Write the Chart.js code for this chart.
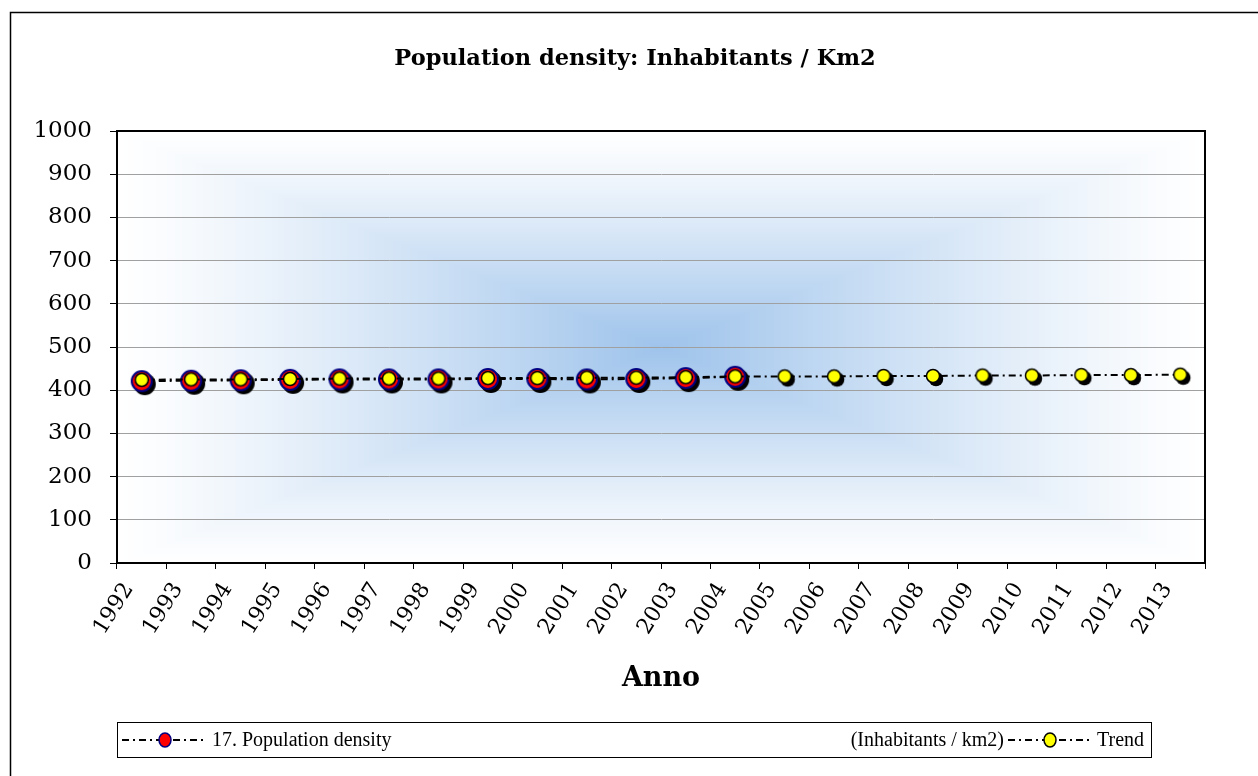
<!DOCTYPE html>
<html>
<head>
<meta charset="utf-8">
<title>Population density</title>
<script src="https://cdn.jsdelivr.net/npm/chart.js@4"></script>
<style>
  html, body { margin: 0; padding: 0; background: #fff; }
  #wrap { width: 1258px; height: 776px; position: relative; }
</style>
</head>
<body>
<div id="wrap"><canvas id="densityChart" width="1258" height="776"></canvas></div>
<script>
(function () {
  'use strict';

  const years = ['1992', '1993', '1994', '1995', '1996', '1997', '1998', '1999', '2000', '2001', '2002',
    '2003', '2004', '2005', '2006', '2007', '2008', '2009', '2010', '2011', '2012', '2013'];
  const density = [421, 422, 423, 424, 425, 425, 425, 426, 426, 425, 426, 428, 431];
  const trend = [424, 425, 425, 426, 427, 427, 427, 428, 428, 429, 429, 430, 432,
    432, 432, 433, 433, 434, 434, 435, 435, 436];
  const yTicks = [0, 100, 200, 300, 400, 500, 600, 700, 800, 900, 1000];

  const titleText = 'Population density: Inhabitants / Km2';
  const xTitle = 'Anno';
  const densityName = '17. Population density';
  const densityUnit = '(Inhabitants / km2)';
  const trendName = 'Trend';

  const SERIF = "'DejaVu Serif', serif";
  const LEGEND_FONT = "20px 'Liberation Serif', serif";
  const DASH = [7, 4, 2, 4];
  const TITLE_CENTER_X = 635; // Excel centres the title on the whole frame, not the canvas

  // marker with a hard black drop shadow, like the Excel original
  function makeMarker(r, fill, stroke, lw, withShadow) {
    const off = 3;
    const size = Math.ceil((r + lw + off) * 2 + 2);
    const c = document.createElement('canvas');
    c.width = c.height = size;
    const g = c.getContext('2d');
    const m = size / 2;
    if (withShadow) {
      g.fillStyle = '#000';
      g.beginPath();
      g.arc(m + off, m + off, r + lw / 2, 0, Math.PI * 2);
      g.fill();
    }
    g.fillStyle = fill;
    g.strokeStyle = stroke;
    g.lineWidth = lw;
    g.beginPath();
    g.arc(m, m, r, 0, Math.PI * 2);
    g.fill();
    g.stroke();
    return c;
  }

  const redMarker = makeMarker(10, '#ff0000', '#000080', 2, true);
  const yellowMarker = makeMarker(6.5, '#ffff00', '#000000', 1.5, true);
  const yellowFlat = makeMarker(6.5, '#ffff00', '#000000', 1.5, false);

  let bgCache = null;
  function buildBackground(w, h) {
    const c = document.createElement('canvas');
    c.width = w;
    c.height = h;
    const g = c.getContext('2d');
    const img = g.createImageData(w, h);
    const cx = w / 2, cy = h / 2;
    const center = [158, 195, 235];
    for (let y = 0; y < h; y++) {
      for (let x = 0; x < w; x++) {
        const t = Math.max(Math.abs(x - cx) / cx, Math.abs(y - cy) / cy);
        const k = Math.pow(1 - Math.min(1, t), 1.2);
        const i = (y * w + x) * 4;
        img.data[i] = 255 + (center[0] - 255) * k;
        img.data[i + 1] = 255 + (center[1] - 255) * k;
        img.data[i + 2] = 255 + (center[2] - 255) * k;
        img.data[i + 3] = 255;
      }
    }
    g.putImageData(img, 0, 0);
    return c;
  }

  const backdrop = {
    id: 'backdrop',
    afterLayout(chart) {
      const t = chart.titleBlock;
      if (!t) return;
      const shift = TITLE_CENTER_X - (t.left + t.right) / 2;
      t.left += shift;
      t.right += shift;
    },
    beforeDraw(chart) {
      const ctx = chart.ctx;
      const a = chart.chartArea;
      ctx.save();
      ctx.fillStyle = '#fff';
      ctx.fillRect(0, 0, chart.width, chart.height);
      ctx.strokeStyle = '#000';
      ctx.lineWidth = 1.5;
      ctx.beginPath();
      ctx.moveTo(10.5, chart.height + 2);
      ctx.lineTo(10.5, 12.5);
      ctx.lineTo(chart.width + 2, 12.5);
      ctx.stroke();
      const w = Math.round(a.right - a.left), h = Math.round(a.bottom - a.top);
      if (!bgCache || bgCache.width !== w || bgCache.height !== h) bgCache = buildBackground(w, h);
      ctx.drawImage(bgCache, a.left, a.top);
      ctx.restore();
    },
    afterDatasetsDraw(chart) {
      const ctx = chart.ctx;
      const a = chart.chartArea;
      ctx.save();
      ctx.strokeStyle = '#000';
      ctx.lineWidth = 2;
      ctx.strokeRect(a.left, a.top, a.right - a.left, a.bottom - a.top);
      ctx.restore();
    },
    afterDraw(chart) {
      const ctx = chart.ctx;
      const ly = 740;
      ctx.save();
      ctx.strokeStyle = '#000';
      ctx.lineWidth = 1;
      ctx.strokeRect(117.5, 722.5, 1034, 35);

      function symbol(x0, x1, mx, fill, stroke) {
        ctx.save();
        ctx.setLineDash(DASH);
        ctx.lineWidth = 2;
        ctx.strokeStyle = '#000';
        ctx.beginPath();
        ctx.moveTo(x0, ly);
        ctx.lineTo(x1, ly);
        ctx.stroke();
        ctx.setLineDash([]);
        ctx.fillStyle = fill;
        ctx.strokeStyle = stroke;
        ctx.lineWidth = 1.5;
        ctx.beginPath();
        ctx.ellipse(mx, ly, 6, 7, 0, 0, Math.PI * 2);
        ctx.fill();
        ctx.stroke();
        ctx.restore();
      }

      symbol(122, 206, 165, '#ff0000', '#000080');
      symbol(1008, 1092, 1050, '#ffff00', '#000000');

      ctx.fillStyle = '#000';
      ctx.font = LEGEND_FONT;
      ctx.textBaseline = 'middle';
      ctx.textAlign = 'left';
      ctx.fillText(densityName, 212, ly + 1);
      ctx.fillText(trendName, 1097, ly + 1);
      ctx.textAlign = 'right';
      ctx.fillText(densityUnit, 1004, ly + 1);
      ctx.restore();
    },
  };

  const ctx = document.getElementById('densityChart').getContext('2d');
  new Chart(ctx, {
    type: 'line',
    data: {
      labels: years,
      datasets: [
        {
          label: densityName + ' ' + densityUnit,
          data: density,
          order: 2,
          borderColor: '#000',
          borderWidth: 2,
          borderDash: DASH,
          fill: false,
          tension: 0,
          pointStyle: redMarker,
          pointRadius: 11,
          pointHoverRadius: 11,
        },
        {
          label: trendName,
          data: trend,
          order: 1,
          borderColor: '#000',
          borderWidth: 2,
          borderDash: DASH,
          fill: false,
          tension: 0,
          pointStyle: (c) => (c.dataIndex < density.length ? yellowFlat : yellowMarker),
          pointRadius: 8,
          pointHoverRadius: 8,
        },
      ],
    },
    options: {
      responsive: false,
      animation: false,
      devicePixelRatio: 1,
      layout: { padding: { left: 0, right: 53, top: 0, bottom: 76 } },
      plugins: {
        legend: { display: false },
        tooltip: { enabled: false },
        title: {
          display: true,
          text: titleText,
          color: '#000',
          font: { family: SERIF, size: 22.5, weight: 'bold' },
          padding: { top: 46, bottom: 58 },
        },
      },
      scales: {
        x: {
          offset: true,
          afterFit: (s) => { s.height = 137; },
          grid: {
            offset: true,
            drawOnChartArea: false,
            drawTicks: true,
            tickLength: 6,
            tickColor: '#000',
          },
          border: { display: true, color: '#000', width: 2 },
          ticks: {
            color: '#000',
            font: { family: SERIF, size: 22 },
            minRotation: 58,
            maxRotation: 58,
            autoSkip: false,
            labelOffset: -13,
            padding: 9,
          },
          title: {
            display: true,
            text: xTitle,
            color: '#000',
            font: { family: SERIF, size: 27, weight: 'bold' },
            padding: { top: 0, bottom: 5 },
          },
        },
        y: {
          min: 0,
          max: 1000,
          afterFit: (s) => { s.width = 117; },
          afterBuildTicks: (s) => { s.ticks = yTicks.map((v) => ({ value: v })); },
          grid: {
            color: '#a0a0a0',
            lineWidth: 1,
            tickColor: '#000',
            tickLength: 7,
          },
          border: { display: true, color: '#000', width: 2 },
          ticks: {
            color: '#000',
            font: { family: SERIF, size: 23 },
            padding: 18,
            callback: (v) => String(v),
          },
        },
      },
    },
    plugins: [backdrop],
  });
})();
</script>
</body>
</html>
